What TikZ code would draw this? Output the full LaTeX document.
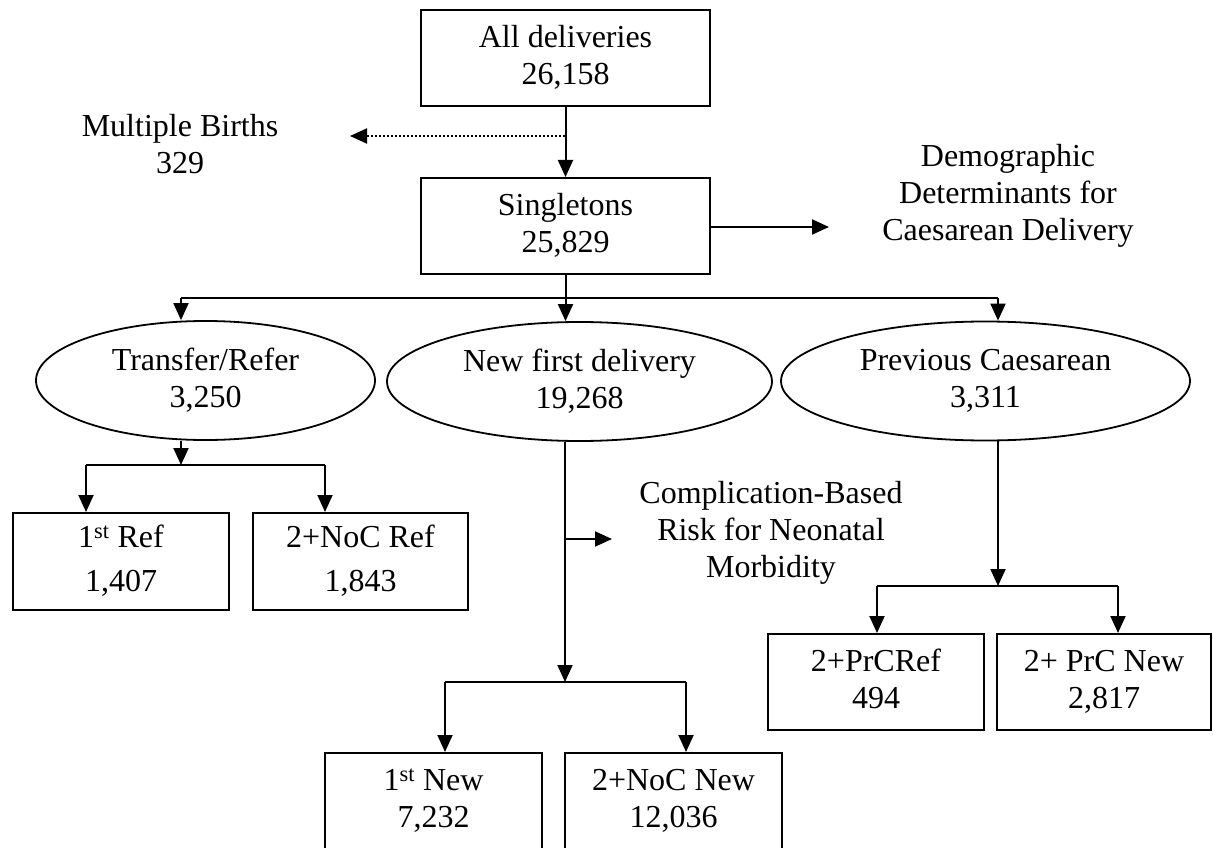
\documentclass[tikz,border=0pt]{standalone}
\usepackage{fontspec}
\setmainfont{Liberation Serif}
\usetikzlibrary{shapes.geometric,arrows.meta}

\newcommand{\boxstrut}{\rule[-6pt]{0pt}{36pt}}
\newcommand{\ovalstrut}{\rule[-2pt]{0pt}{36pt}}

\tikzset{
  box/.style={draw,line width=2pt,rectangle,inner sep=0pt,align=center,
    execute at begin node=\boxstrut,execute at end node=\boxstrut},
  oval/.style={draw,line width=1.8pt,ellipse,inner sep=0pt,align=center,
    minimum height=119pt,execute at begin node=\ovalstrut,execute at end node=\ovalstrut},
  label/.style={align=center,inner sep=0pt},
  arr/.style={line width=2pt,-{Triangle[length=17pt,width=15pt]}},
  link/.style={line width=2pt}
}

\begin{document}
\begin{tikzpicture}[x=1pt,y=-1pt,font=\fontsize{32}{37}\selectfont]
  \clip (0,0) rectangle (1213,848);
  \fill[white] (0,0) rectangle (1213,848);

  % Top boxes
  \node[box,minimum width=289pt,minimum height=96pt] (all) at (565.5,58) {All deliveries\\26,158};
  \node[box,minimum width=289pt,minimum height=96pt] (sing) at (565.5,226) {Singletons\\25,829};

  % Side texts
  \node[label] (multi) at (180,144) {Multiple Births\\329};
  \node[label] (demo) at (1008,196) {Demographic\\Determinants for\\Caesarean Delivery};
  \node[label] (comp) at (771,533) {Complication-Based\\Risk for Neonatal\\Morbidity};

  % Three groups
  \node[oval,minimum width=339pt] (trans) at (205.5,380.5) {Transfer/Refer\\3,250};
  \node[oval,minimum width=385pt] (newf) at (579.5,381.5) {New first delivery\\19,268};
  \node[oval,minimum width=409pt] (prev) at (985.5,381) {Previous Caesarean\\3,311};

  % Transfer/Refer split
  \node[box,minimum width=216pt,minimum height=97pt] (ref1) at (121,561.5) {1\textsuperscript{st} Ref\\[7pt]1,407};
  \node[box,minimum width=215pt,minimum height=97pt] (ref2) at (360.5,561.5) {2+NoC Ref\\[7pt]1,843};

  % Previous Caesarean split
  \node[box,minimum width=216pt,minimum height=96pt] (prc1) at (876,682) {2+PrCRef\\494};
  \node[box,minimum width=214pt,minimum height=96pt] (prc2) at (1104,682) {2+ PrC New\\2,817};

  % New first delivery split
  \node[box,minimum width=217pt,minimum height=97pt] (new1) at (433.5,801.5) {1\textsuperscript{st} New\\7,232};
  \node[box,minimum width=217pt,minimum height=97pt] (new2) at (673.5,801.5) {2+NoC New\\12,036};

  % Spine
  \coordinate (drop) at (565,136);
  \draw[arr] (all.south) -- (sing.north);
  \draw[arr,dotted] (drop) -- (350,136) coordinate (mbtip);
  \draw[arr] (sing.east |- 0,227) -- (829,227) coordinate (dmtip);

  % Bus to the three groups
  \coordinate (busL) at (181,298);
  \coordinate (busR) at (998,298);
  \draw[link] (sing.south) -- (sing.south |- busL);
  \draw[link] (busL) -- (busR);
  \draw[arr] (busL) -- (busL |- trans.north);
  \draw[arr] (sing.south |- busL) -- (sing.south |- newf.north);
  \draw[arr] (busR) -- (busR |- prev.north);

  % Transfer/Refer branches
  \coordinate (tbus) at (181,465);
  \draw[arr] (tbus |- trans.south) -- (tbus);
  \draw[link] (86,465) coordinate (tL) -- (325,465) coordinate (tR);
  \draw[arr] (tL) -- (tL |- ref1.north);
  \draw[arr] (tR) -- (tR |- ref2.north);

  % New first delivery branches
  \coordinate (nbus) at (565,682);
  \draw[arr] (nbus |- newf.south) -- (nbus);
  \draw[arr] (565,539) -- (612,539) coordinate (cmtip);
  \draw[link] (445,682) coordinate (nL) -- (686,682) coordinate (nR);
  \draw[arr] (nL) -- (nL |- new1.north);
  \draw[arr] (nR) -- (nR |- new2.north);

  % Previous Caesarean branches
  \coordinate (pbus) at (998,586);
  \draw[arr] (pbus |- prev.south) -- (pbus);
  \draw[link] (877,586) coordinate (pL) -- (1118,586) coordinate (pR);
  \draw[arr] (pL) -- (pL |- prc1.north);
  \draw[arr] (pR) -- (pR |- prc2.north);
\end{tikzpicture}
\end{document}
